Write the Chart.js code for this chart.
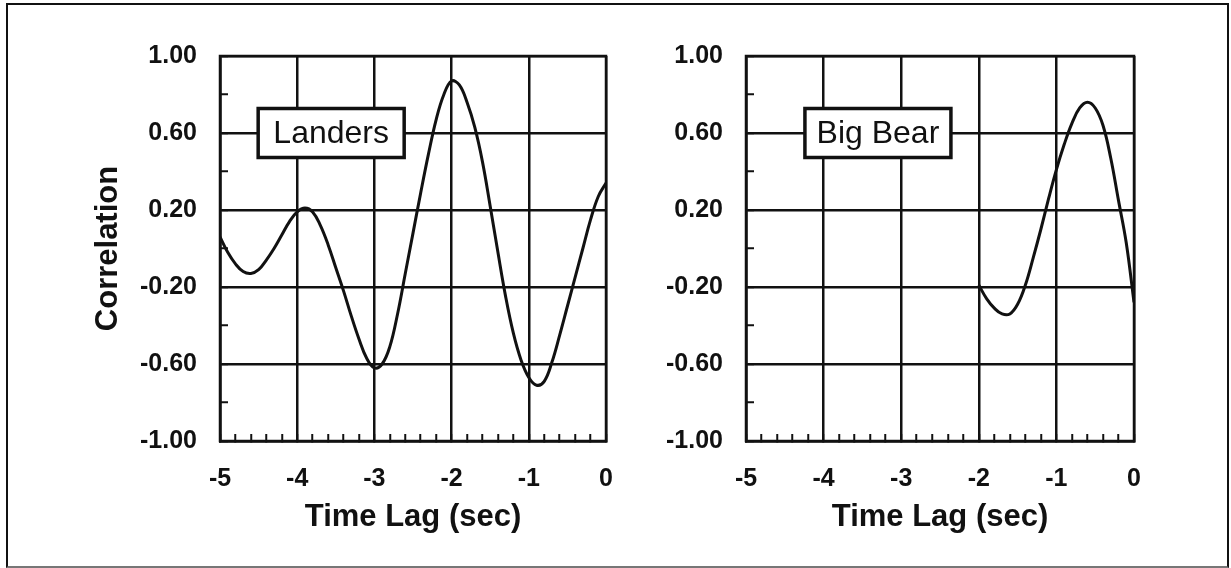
<!DOCTYPE html>
<html lang="en">
<head>
  <meta charset="UTF-8">
  <title>Correlation vs Time Lag</title>
  <script src="https://cdn.jsdelivr.net/npm/chart.js"></script>
  <style>
    body {
      margin: 0;
      background: #fff;
    }
    .page {
      position: relative;
      width: 1231px;
      height: 568px;
      overflow: hidden;
    }
    .frame {
      position: absolute;
      left: 6px;
      top: 3px;
      width: 1219px;
      height: 561px;
      border: 2px solid #111;
      border-bottom-color: #777;
    }
    canvas {
      position: absolute;
      left: 0;
      top: 0;
    }
  </style>
</head>
<body>
  <div class="page">
    <div class="frame"></div>
    <canvas id="landersChart" width="1231" height="568"></canvas>
    <canvas id="bigBearChart" width="1231" height="568"></canvas>
  </div>

  <script>
    // lag (sec) and correlation, Landers
    const landersLag = [
      -5.0, -4.9, -4.8, -4.7, -4.6, -4.5, -4.4, -4.3, -4.2, -4.1,
      -4.0, -3.9, -3.8, -3.7, -3.6, -3.5, -3.4, -3.3, -3.2, -3.1,
      -3.0, -2.9, -2.8, -2.7, -2.6, -2.5, -2.4, -2.3, -2.2, -2.1,
      -2.0, -1.9, -1.8, -1.7, -1.6, -1.5, -1.4, -1.3, -1.2, -1.1,
      -1.0, -0.9, -0.8, -0.7, -0.6, -0.5, -0.4, -0.3, -0.2, -0.1, 0.0
    ];
    const landersCorr = [
      0.06, -0.02, -0.08, -0.12, -0.13, -0.11, -0.06, 0.00, 0.07, 0.14,
      0.19, 0.21, 0.19, 0.12, 0.02, -0.10, -0.22, -0.35, -0.47, -0.57,
      -0.62, -0.60, -0.51, -0.34, -0.13, 0.08, 0.29, 0.49, 0.67, 0.80,
      0.87, 0.85, 0.76, 0.63, 0.45, 0.22, -0.02, -0.25, -0.44, -0.58,
      -0.67, -0.71, -0.69, -0.59, -0.45, -0.30, -0.15, 0.00, 0.15, 0.27, 0.34
    ];

    // lag (sec) and correlation, Big Bear
    const bigBearLag = [
      -2.0, -1.9, -1.8, -1.7, -1.6, -1.5, -1.4, -1.3, -1.2, -1.1,
      -1.0, -0.9, -0.8, -0.7, -0.6, -0.5, -0.4, -0.3, -0.2, -0.1, 0.0
    ];
    const bigBearCorr = [
      -0.19, -0.26, -0.31, -0.34, -0.34, -0.29, -0.19, -0.05, 0.10, 0.26,
      0.41, 0.54, 0.65, 0.73, 0.76, 0.73, 0.64, 0.47, 0.25, 0.03, -0.28
    ];

    const xLabelTicks = [-5, -4, -3, -2, -1, 0];
    const yLabelTicks = [1.0, 0.6, 0.2, -0.2, -0.6, -1.0];

    // station name box, placed at (lag, correlation)
    const landersTag = { text: 'Landers', x: -3.56, y: 0.6 };
    const bigBearTag = { text: 'Big Bear', x: -3.30, y: 0.6 };

    const INK = '#111';
    const FONT = "'Liberation Sans', Arial, sans-serif";

    const isLabelX = v => xLabelTicks.some(t => Math.abs(t - v) < 1e-6);
    const isLabelY = v => yLabelTicks.some(t => Math.abs(t - v) < 1e-6);

    // outline of the plot area plus the name box
    const framePlugin = {
      id: 'framePlugin',
      afterDraw(chart) {
        const { ctx, chartArea: a, scales } = chart;
        const tag = chart.options.plugins.framePlugin.tag;
        ctx.save();
        ctx.strokeStyle = INK;
        ctx.lineWidth = 2.5;
        ctx.strokeRect(a.left, a.top, a.right - a.left, a.bottom - a.top);

        const cx = scales.x.getPixelForValue(tag.x);
        const cy = scales.y.getPixelForValue(tag.y);
        const w = 146, h = 49;
        ctx.fillStyle = '#fff';
        ctx.fillRect(cx - w / 2, cy - h / 2, w, h);
        ctx.lineWidth = 3.5;
        ctx.strokeRect(cx - w / 2, cy - h / 2, w, h);
        ctx.fillStyle = INK;
        ctx.font = '32px ' + FONT;
        ctx.textAlign = 'center';
        ctx.textBaseline = 'middle';
        ctx.fillText(tag.text, cx, cy + 1);
        ctx.restore();
      }
    };

    function makeChart(id, lags, corr, tag, pad, yWidth, showYTitle) {
      return new Chart(document.getElementById(id), {
        type: 'line',
        data: {
          datasets: [{
            data: lags.map((x, i) => ({ x: x, y: corr[i] })),
            borderColor: INK,
            borderWidth: 3,
            pointRadius: 0,
            tension: 0.4,
            fill: false
          }]
        },
        options: {
          responsive: false,
          animation: false,
          layout: { padding: pad },
          plugins: {
            legend: { display: false },
            tooltip: { enabled: false },
            framePlugin: { tag: tag }
          },
          scales: {
            x: {
              type: 'linear',
              min: -5,
              max: 0,
              afterFit(scale) { scale.height = 127; },
              ticks: {
                stepSize: 0.2,
                autoSkip: false,
                maxRotation: 0,
                padding: 30,
                color: INK,
                font: { family: FONT, size: 25, weight: 'bold' },
                callback: v => isLabelX(v) ? String(Math.round(v)) : ''
              },
              grid: {
                lineWidth: 2.5,
                color: ctx => isLabelX(ctx.tick.value) ? INK : 'rgba(0,0,0,0)',
                tickColor: INK,
                tickWidth: 2,
                tickLength: -7
              },
              border: { color: INK, width: 2.5 },
              title: {
                display: true,
                text: 'Time Lag (sec)',
                color: INK,
                font: { family: FONT, size: 31, weight: 'bold' },
                padding: { top: 0, bottom: 32 }
              }
            },
            y: {
              min: -1,
              max: 1,
              afterFit(scale) { scale.width = yWidth; },
              ticks: {
                stepSize: 0.2,
                autoSkip: false,
                padding: 31,
                color: INK,
                font: { family: FONT, size: 25, weight: 'bold' },
                callback: v => isLabelY(v) ? v.toFixed(2) : ''
              },
              grid: {
                lineWidth: 2.5,
                color: ctx => isLabelY(ctx.tick.value) ? INK : 'rgba(0,0,0,0)',
                tickColor: INK,
                tickWidth: 2,
                tickLength: -8
              },
              border: { color: INK, width: 2.5 },
              title: {
                display: showYTitle,
                text: 'Correlation',
                color: INK,
                font: { family: FONT, size: 31, weight: 'bold' },
                padding: { top: 90, bottom: 0 }
              }
            }
          }
        },
        plugins: [framePlugin]
      });
    }

    makeChart('landersChart', landersLag, landersCorr, landersTag,
      { left: 0, top: 56, right: 625, bottom: 0 }, 220, true);
    makeChart('bigBearChart', bigBearLag, bigBearCorr, bigBearTag,
      { left: 646, top: 56, right: 97, bottom: 0 }, 100, false);
  </script>
</body>
</html>
